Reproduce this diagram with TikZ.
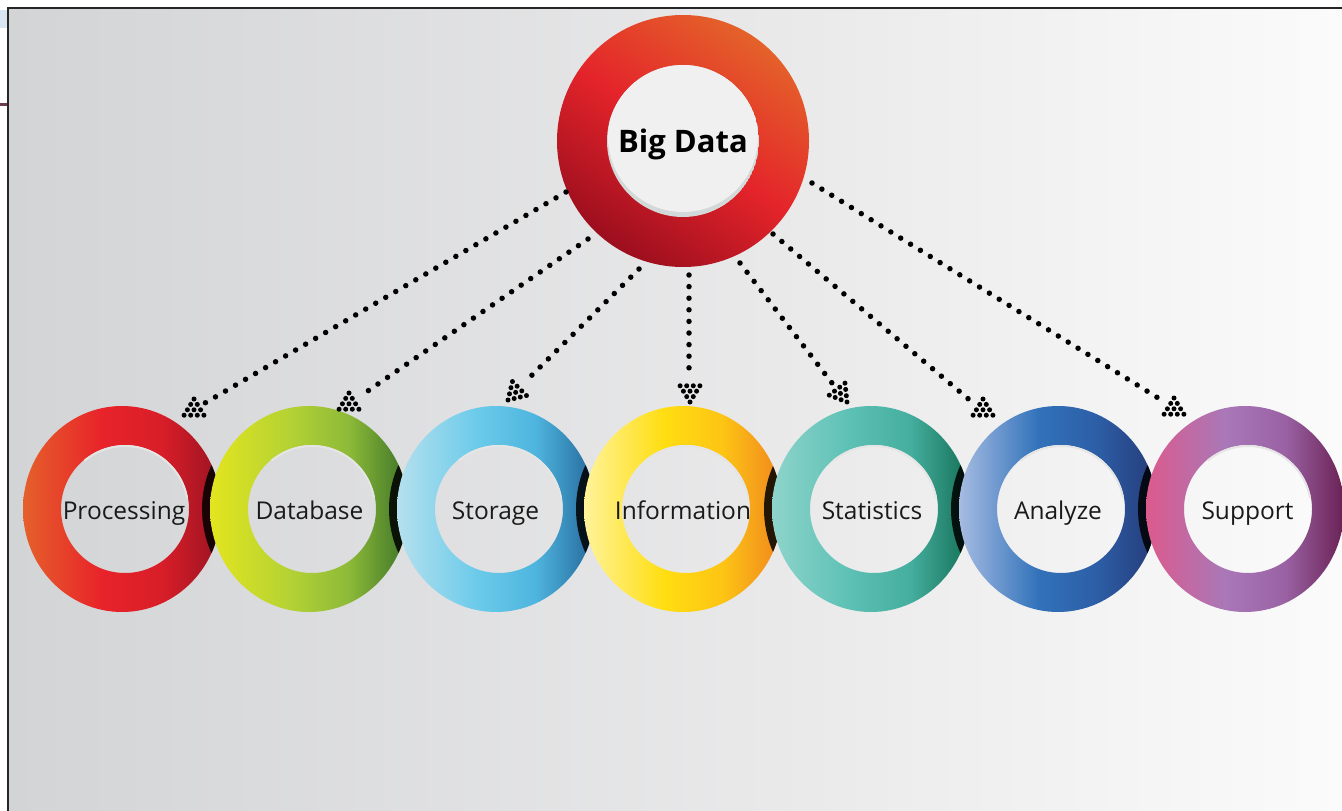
\documentclass[tikz,border=0pt]{standalone}
\usepackage{fontspec}
\setmainfont{Open Sans}
\definecolor{bgL}{HTML}{D3D4D6}
\definecolor{bgM}{HTML}{EAEAEB}
\definecolor{bgR}{HTML}{FBFBFB}
\definecolor{pa}{HTML}{E5602B}\definecolor{pb}{HTML}{E8232A}\definecolor{pc}{HTML}{D81E28}\definecolor{pd}{HTML}{9A1322}
\definecolor{da}{HTML}{E3E51E}\definecolor{db}{HTML}{B4D234}\definecolor{dc}{HTML}{8DBA38}\definecolor{dd}{HTML}{3C7328}
\definecolor{sa}{HTML}{B5E0EE}\definecolor{sb}{HTML}{6CCBEA}\definecolor{sc}{HTML}{4EB5DE}\definecolor{sd}{HTML}{24679A}
\definecolor{ia}{HTML}{FFF39A}\definecolor{ib}{HTML}{FFDE12}\definecolor{ic}{HTML}{FDC414}\definecolor{id}{HTML}{F0861F}
\definecolor{ta}{HTML}{8ED4CB}\definecolor{tb}{HTML}{5CC0B4}\definecolor{tc}{HTML}{45AE9E}\definecolor{td}{HTML}{136F55}
\definecolor{aa}{HTML}{A6BCE2}\definecolor{ab}{HTML}{3272BA}\definecolor{ac}{HTML}{2C5EA6}\definecolor{ad}{HTML}{263A78}
\definecolor{ua}{HTML}{DC5A8C}\definecolor{ub}{HTML}{A978B8}\definecolor{uc}{HTML}{9A62A4}\definecolor{ud}{HTML}{6A2254}
\definecolor{bdA}{HTML}{9C0E1E}\definecolor{bdB}{HTML}{E4242A}\definecolor{bdC}{HTML}{E4622A}
\definecolor{innerA}{HTML}{D3D9D8}\definecolor{innerB}{HTML}{F0F0F0}
\definecolor{txt}{HTML}{1A1A1A}
\newcommand\mkshade[5]{\pgfdeclarehorizontalshading{#1}{100bp}{color(0bp)=(#2);color(25bp)=(#2);color(45bp)=(#3);color(60bp)=(#4);color(75bp)=(#5);color(100bp)=(#5)}}
\mkshade{shP}{pa}{pb}{pc}{pd}
\mkshade{shD}{da}{db}{dc}{dd}
\mkshade{shS}{sa}{sb}{sc}{sd}
\mkshade{shI}{ia}{ib}{ic}{id}
\mkshade{shT}{ta}{tb}{tc}{td}
\mkshade{shA}{aa}{ab}{ac}{ad}
\mkshade{shU}{ua}{ub}{uc}{ud}
\pgfdeclarehorizontalshading{shBG}{100bp}{color(0bp)=(bgL);color(25bp)=(bgL);color(55bp)=(bgM);color(75bp)=(bgR);color(100bp)=(bgR)}
\tikzset{
  dotline/.style={line width=5.5pt, line cap=round, dash pattern=on 0pt off 11.6pt, black},
  lbl/.style={anchor=base, text=txt, font=\fontsize{24.5}{25}\selectfont, inner sep=0pt},
  biglbl/.style={anchor=base, text=black, font=\bfseries\fontsize{31}{31}\selectfont, inner sep=0pt},
  dottri/.pic={\foreach \r in {0,1,2,3}{\foreach \c in {0,...,\r}{\fill[black] ({(\c-\r/2)*6.6},{\r*5.4}) circle (2.5pt);}}},
  ringshadow/.style={fill=black, opacity=0.85}
}
% #1 center x, #2 shading, #3 previous center x (or empty)
\newcommand\myring[3]{%
  \ifx\relax#3\relax\else
  \begin{scope}
    \clip (#3,509) ellipse (99pt and 103pt);
    \fill[ringshadow] (#1-8,509) ellipse (99pt and 103pt);
  \end{scope}
  \fi
  \shade[shading=#2, even odd rule] (#1,509) ellipse (99pt and 103pt) (#1+3,509) circle (64pt);
  \draw[black!10, line width=2pt] (#1+3,509) ++(10:63pt) arc (10:130:63pt);
}
\begin{document}
\begin{tikzpicture}[x=1pt,y=-1pt]
\useasboundingbox (0,0) rectangle (1342,811);
\fill[white] (0,0) rectangle (1342,811);
\fill[color={rgb,255:red,110;green,60;blue,80}] (0,103) rectangle (8,105.5);
\fill[color={rgb,255:red,215;green,230;blue,240}] (0,10) rectangle (8,28);
\shade[shading=shBG] (8,8) rectangle (1342,811);
\draw[line width=1.6pt, black!85] (8,811) -- (8,8) -- (1342,8);

% Big Data ring
\shade[bottom color=bdA, top color=bdC, middle color=bdB, shading angle=-35] (683,141) circle (126pt);
\begin{scope}
  \clip (683,141) circle (76pt);
  \fill[innerA] (683,141) circle (76pt);
  \fill[innerB] (683,137) circle (75pt);
\end{scope}
\node[circle, minimum size=252pt, inner sep=0pt] (bd) at (683,141) {};
\node[biglbl] (bdl) at (683,152) {Big Data};

% small rings
\myring{122}{shP}{}
\myring{309}{shD}{122}
\myring{496}{shS}{309}
\myring{683}{shI}{496}
\myring{871}{shT}{683}
\myring{1058}{shA}{871}
\myring{1245}{shU}{1058}

\node[lbl] (proc) at (124,519) {Processing};
\node[lbl] (dbase) at (309.5,519) {Database};
\node[lbl] (stor) at (495.5,519) {Storage};
\node[lbl] (info) at (683,519) {Information};
\node[lbl] (stat) at (872,519) {Statistics};
\node[lbl] (anal) at (1058,519) {Analyze};
\node[lbl] (supp) at (1247.5,519) {Support};

% connector end points
\coordinate (s1) at (566,192); \coordinate (e1) at (205,403);
\coordinate (s2) at (588,239); \coordinate (e2) at (362,395);
\coordinate (s3) at (639,269); \coordinate (e3) at (525,382);
\coordinate (s4) at (689,275); \coordinate (e4) at (689,377);
\coordinate (s5) at (740,263); \coordinate (e5) at (832,383);
\coordinate (s6) at (773,234); \coordinate (e6) at (972,402);
\coordinate (s7) at (812,183); \coordinate (e7) at (1163,401);
\foreach \i in {1,...,7}{\draw[dotline] (s\i) -- (e\i);}

% dot-triangle heads
\pic at (194,399) {dottri};
\pic at (349,393) {dottri};
\pic[rotate=135] at (508,400) {dottri};
\pic[rotate=180] at (690,402) {dottri};
\pic[rotate=-142.5] at (847,402) {dottri};
\pic at (983,399) {dottri};
\pic at (1174,398) {dottri};
\end{tikzpicture}
\end{document}
